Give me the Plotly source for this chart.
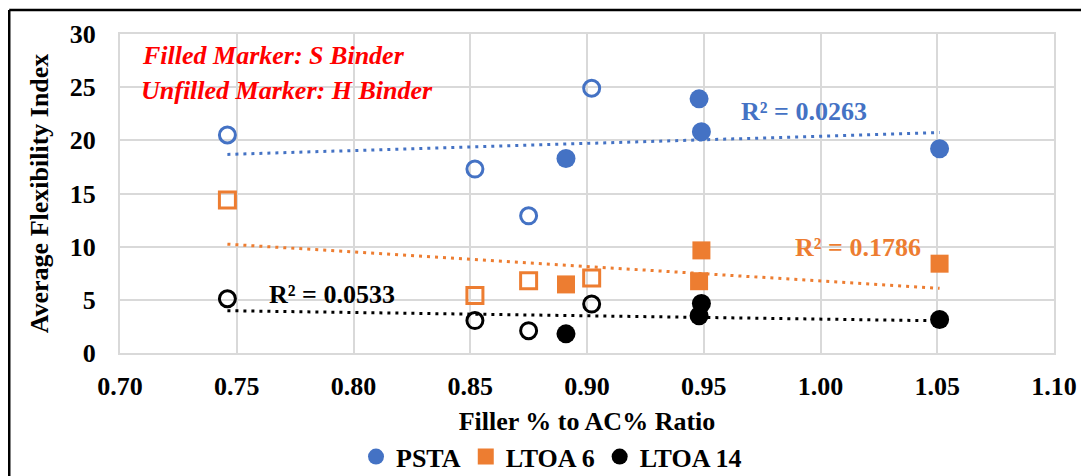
import numpy as np
import plotly.graph_objects as go

# ---- data ----
psta_h_x = [0.746, 0.852, 0.875, 0.902]
psta_h_y = [20.5, 17.3, 12.9, 24.9]
psta_s_x = [0.891, 0.948, 0.949, 1.051]
psta_s_y = [18.3, 23.9, 20.8, 19.2]

ltoa6_h_x = [0.746, 0.852, 0.875, 0.902]
ltoa6_h_y = [14.4, 5.4, 6.8, 7.05]
ltoa6_s_x = [0.891, 0.949, 0.948, 1.051]
ltoa6_s_y = [6.45, 9.65, 6.75, 8.4]

ltoa14_h_x = [0.746, 0.852, 0.875, 0.902]
ltoa14_h_y = [5.1, 3.05, 2.1, 4.6]
ltoa14_s_x = [0.891, 0.949, 0.948, 1.051]
ltoa14_s_y = [1.8, 4.65, 3.5, 3.15]

series_names = ["PSTA", "LTOA 6", "LTOA 14"]
series_colors = ["#4472C4", "#ED7D31", "#000000"]
r2_labels = ["R² = 0.0263", "R² = 0.1786", "R² = 0.0533"]

x_ticks = [0.70, 0.75, 0.80, 0.85, 0.90, 0.95, 1.00, 1.05, 1.10]
y_ticks = [0, 5, 10, 15, 20, 25, 30]

FONT = "Liberation Serif, Times New Roman, serif"

fig = go.Figure()

groups = [
    (psta_h_x, psta_h_y, psta_s_x, psta_s_y, "circle"),
    (ltoa6_h_x, ltoa6_h_y, ltoa6_s_x, ltoa6_s_y, "square"),
    (ltoa14_h_x, ltoa14_h_y, ltoa14_s_x, ltoa14_s_y, "circle"),
]

# trendlines (linear fit over all points of each series)
for (hx, hy, sx, sy, sym), col in zip(groups, series_colors):
    ax = np.array(hx + sx)
    ay = np.array(hy + sy)
    m, b = np.polyfit(ax, ay, 1)
    xs = np.array([ax.min(), ax.max()])
    fig.add_trace(go.Scatter(x=xs, y=m * xs + b, mode="lines",
                             line=dict(color=col, width=3, dash="3px,5px"),
                             showlegend=False, hoverinfo="skip"))

# hollow markers (H binder)
for (hx, hy, sx, sy, sym), col in zip(groups, series_colors):
    fig.add_trace(go.Scatter(x=hx, y=hy, mode="markers", showlegend=False,
                             marker=dict(symbol=sym + "-open", size=16, color=col,
                                         line=dict(width=3, color=col))))

# filled markers (S binder)
for (hx, hy, sx, sy, sym), col, name in zip(groups, series_colors, series_names):
    fig.add_trace(go.Scatter(x=sx, y=sy, mode="markers", name=name,
                             marker=dict(symbol=sym, size=19 if sym == "circle" else 18,
                                         color=col, line=dict(width=0))))

# R² labels
r2_pos = [(0.993, 22.75), (1.016, 9.95), (0.7906, 5.5)]
for lab, (px, py), col in zip(r2_labels, r2_pos, series_colors):
    fig.add_annotation(x=px, y=py, text=lab, showarrow=False, xanchor="center", yanchor="middle",
                       font=dict(family=FONT, size=26, color=col, weight="bold"))

# red notes
fig.add_annotation(x=0.7085, y=28.0, text="Filled Marker: S Binder", showarrow=False,
                   xanchor="left", yanchor="middle",
                   font=dict(family=FONT, size=26, color="#FF0000", weight="bold", style="italic"))
fig.add_annotation(x=0.7080, y=24.7, text="Unfilled Marker: H Binder", showarrow=False,
                   xanchor="left", yanchor="middle",
                   font=dict(family=FONT, size=26, color="#FF0000", weight="bold", style="italic"))

# figure is placed 8px in from page edges (body margin); size & margins compensate
W, H = 1081, 490
ML, MR, MT = 112, 33, 25
PH = 320
MB = H - MT - PH
pw, ph = W - ML - MR, PH

def px2paper_x(p):
    return (p - ML) / pw

def px2paper_y(p):
    return (MT + PH - p) / ph

# outer frame lines (left and top)
fig.add_shape(type="line", xref="paper", yref="paper",
              x0=px2paper_x(1), x1=px2paper_x(1), y0=px2paper_y(1), y1=px2paper_y(H),
              line=dict(color="black", width=2.5))
fig.add_shape(type="line", xref="paper", yref="paper",
              x0=px2paper_x(1), x1=px2paper_x(W), y0=px2paper_y(1), y1=px2paper_y(1),
              line=dict(color="black", width=2.5))

GRID = "#D9D9D9"
fig.update_layout(
    width=W, height=H,
    margin=dict(l=ML, r=MR, t=MT, b=MB),
    paper_bgcolor="white", plot_bgcolor="white",
    font=dict(family=FONT, color="black"),
    showlegend=True,
    legend=dict(orientation="h", x=0.462, xanchor="center", y=px2paper_y(457 - 8), yanchor="middle",
                font=dict(family=FONT, size=26, color="black", weight="bold"),
                itemwidth=30, traceorder="normal", bgcolor="rgba(0,0,0,0)"),
    xaxis=dict(range=[0.70, 1.10], tickvals=x_ticks, ticktext=[f"{v:.2f}" for v in x_ticks],
               showgrid=True, gridcolor=GRID, gridwidth=2, zeroline=False,
               showline=True, linecolor=GRID, linewidth=2, mirror=True,
               ticks="outside", ticklen=9, tickcolor="rgba(0,0,0,0)",
               tickfont=dict(family=FONT, size=26, color="black", weight="bold"),
               title=dict(text="Filler % to AC% Ratio", standoff=12,
                          font=dict(family=FONT, size=26, color="black", weight="bold"))),
    yaxis=dict(range=[0, 30], tickvals=y_ticks,
               showgrid=True, gridcolor=GRID, gridwidth=2, zeroline=False,
               showline=True, linecolor=GRID, linewidth=2, mirror=True,
               ticks="outside", ticklen=17, tickcolor="rgba(0,0,0,0)",
               tickfont=dict(family=FONT, size=26, color="black", weight="bold"),
               title=dict(text="Average Flexibility Index", standoff=14,
                          font=dict(family=FONT, size=26, color="black", weight="bold"))),
)

fig.write_html("out.html")
